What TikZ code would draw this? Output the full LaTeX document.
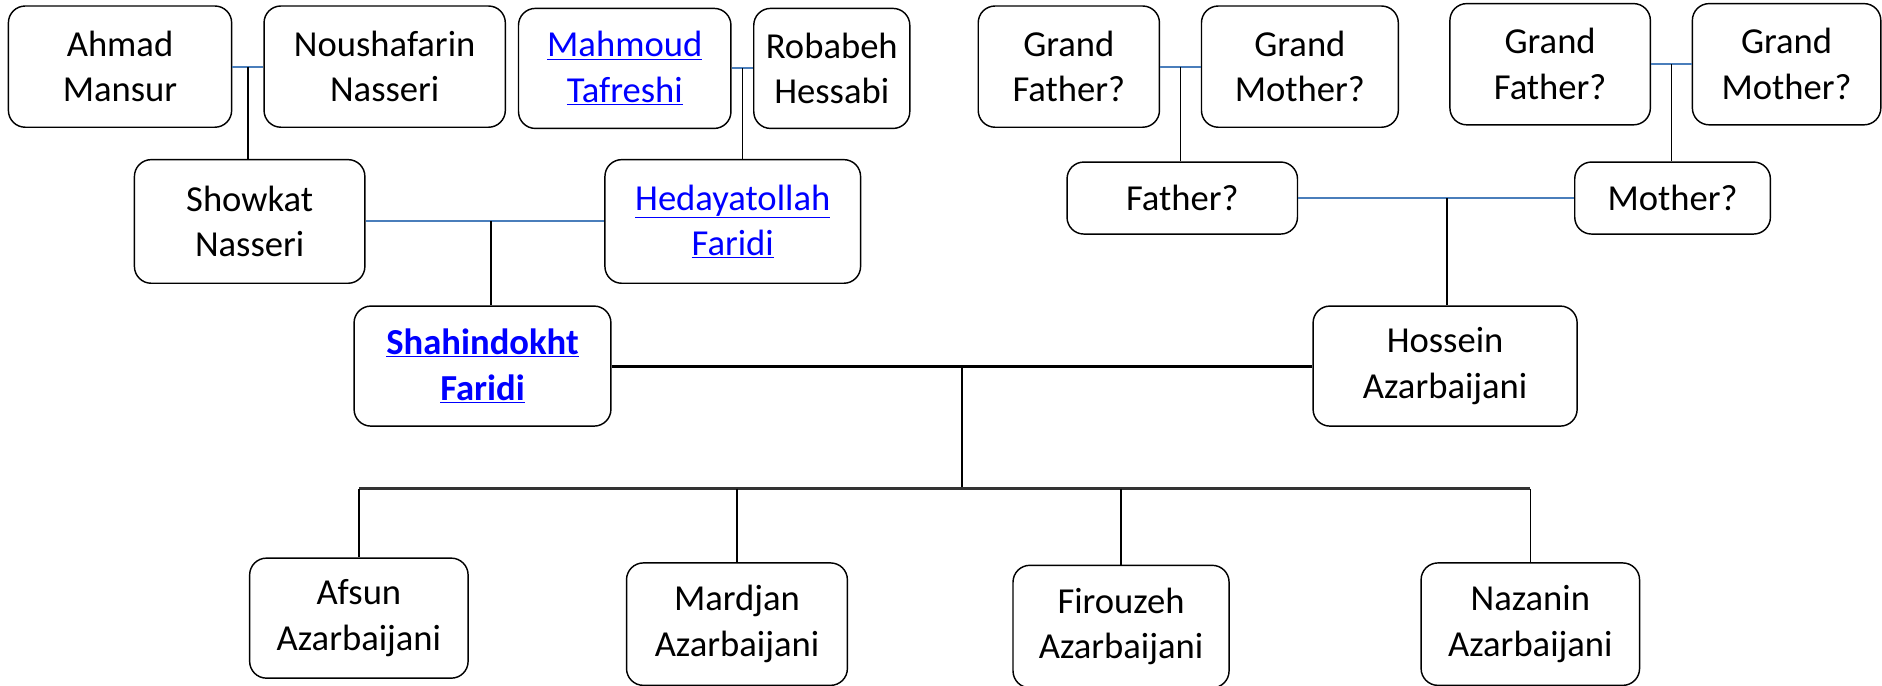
\documentclass[tikz,border=0pt]{standalone}
\usepackage{fontspec}
\setmainfont{Carlito}
\usetikzlibrary{positioning}
\definecolor{linkblue}{RGB}{0,0,255}
\definecolor{wedblue}{RGB}{74,126,187}
\newcommand{\weblink}[1]{\textcolor{linkblue}{\underline{#1}}}
\tikzstyle{person} = [rectangle, rounded corners=14pt, draw=black, line width=1.2pt, fill=white, inner sep=0pt, align=center, font=\fontsize{30.5}{38}\selectfont]
\tikzstyle{wed} = [draw=wedblue, line width=1.7pt]
\tikzstyle{kin} = [draw=black, line width=1.3pt]
\tikzstyle{couple} = [draw=black, line width=2.4pt]

\begin{document}
\begin{tikzpicture}[x=1pt, y=-1pt]
        \useasboundingbox (0,0) rectangle (1568,571);
        %grandparents
        \node (Ahmad) [person, minimum width=186, minimum height=101] at (100,55.5) {Ahmad\\Mansur};
        \node (Noush) [person, minimum width=201, minimum height=101] at (320.5,55.5) {Noushafarin\\Nasseri};
        \node (Mahmoud) [person, minimum width=177, minimum height=100] at (520.5,57) {\weblink{Mahmoud}\\\weblink{Tafreshi}};
        \node (Robabeh) [person, minimum width=130, minimum height=100] at (693,57) {Robabeh\\Hessabi};
        \node (GFa) [person, minimum width=151, minimum height=101] at (890.5,55.5) {Grand\\Father?};
        \node (GMa) [person, minimum width=164, minimum height=101] at (1083,55.5) {Grand\\Mother?};
        \node (GFb) [person, minimum width=167, minimum height=101] at (1291.5,53.5) {Grand\\Father?};
        \node (GMb) [person, minimum width=157, minimum height=101] at (1488.5,53.5) {Grand\\Mother?};
        %parents
        \node (Showkat) [person, minimum width=192, minimum height=103] at (208,184.5) {Showkat\\Nasseri};
        \node (Hedayat) [person, minimum width=213, minimum height=103] at (610.5,184.5) {\weblink{Hedayatollah}\\\weblink{Faridi}};
        \node (Father) [person, minimum width=192, minimum height=60] at (985,165) {Father?};
        \node (Mother) [person, minimum width=163, minimum height=60] at (1393.5,165) {Mother?};
        %couple
        \node (Shahin) [person, minimum width=214, minimum height=100] at (402,305) {\bfseries\weblink{Shahindokht}\\\bfseries\weblink{Faridi}};
        \node (Hossein) [person, minimum width=220, minimum height=100] at (1204,305) {Hossein\\Azarbaijani};
        %children
        \node (Afsun) [person, minimum width=182, minimum height=100] at (299,515) {Afsun\\Azarbaijani};
        \node (Mardjan) [person, minimum width=184, minimum height=102] at (614,520) {Mardjan\\Azarbaijani};
        \node (Firouzeh) [person, minimum width=180, minimum height=102] at (934,522) {Firouzeh\\Azarbaijani};
        \node (Nazanin) [person, minimum width=182, minimum height=102] at (1275,520) {Nazanin\\Azarbaijani};
        %marriages
        \draw [wed] (Ahmad.east) -- coordinate (mA) (Noush.west);
        \draw [wed] (Mahmoud.east) -- coordinate (mB) (Robabeh.west);
        \draw [wed] (GFa.east) -- coordinate (mC) (GMa.west);
        \draw [wed] (GFb.east) -- coordinate (mD) (GMb.west);
        \draw [wed] (Showkat.east) -- coordinate[pos=0.525] (mE) (Hedayat.west);
        \draw [wed] (Father.east) -- coordinate[pos=0.54] (mF) (Mother.west);
        \draw [couple] (Shahin.east) -- coordinate (mG) (Hossein.west);
        %descent
        \draw [kin] (mA) -- (mA |- Showkat.north);
        \draw [kin] (mB) -- (mB |- Hedayat.north);
        \draw [kin] (mC) -- (mC |- Father.north);
        \draw [kin] (mD) -- (mD |- Mother.north);
        \draw [kin] (mE) -- (mE |- Shahin.north);
        \draw [kin] (mF) -- (mF |- Hossein.north);
        \coordinate (bar) at (mG |- 0,407);
        \draw [kin] (mG) -- (bar);
        \draw [couple, draw=black!80, line width=2pt] (bar -| Afsun.north) -- (bar -| Nazanin.north);
        \foreach \kid in {Afsun, Mardjan, Firouzeh, Nazanin}
            \draw [kin] (bar -| \kid.north) -- (\kid.north);
    \end{tikzpicture}
\end{document}
